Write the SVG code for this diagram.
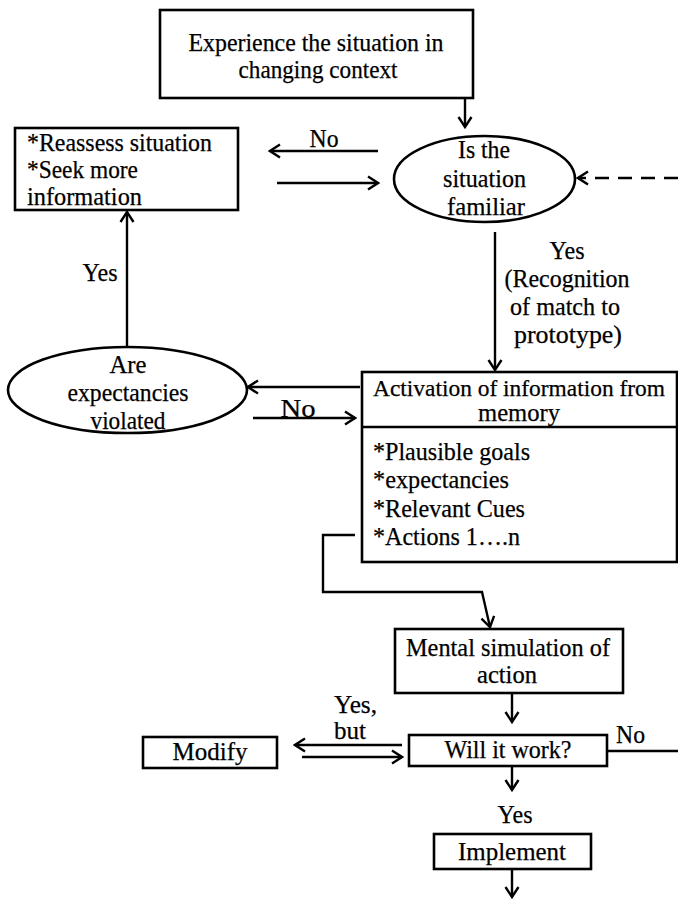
<svg xmlns="http://www.w3.org/2000/svg" width="678" height="901" viewBox="0 0 678 901">
<style>
.t{font-family:"Liberation Serif","Times New Roman",serif;font-size:25px;fill:#000;stroke:#000;stroke-width:0.25}
.m{text-anchor:middle}
.b{fill:#fff;stroke:#000;stroke-width:2.6}
.c{fill:none;stroke:#000;stroke-width:2.4}
.a{marker-end:url(#ah)}
.d{stroke-dasharray:14 9}
</style>
<defs>
<marker id="ah" markerUnits="userSpaceOnUse" markerWidth="14" markerHeight="16" viewBox="0 0 14 16" refX="12" refY="8" orient="auto">
<path d="M2,1.5 L12,8 L2,14.5" fill="none" stroke="#000" stroke-width="2.4"/>
</marker>
</defs>
<rect width="678" height="901" fill="#fff"/>
<g id="connectors">
<line class="c a" x1="465" y1="98" x2="465" y2="127"/>
<line class="c a" x1="378" y1="151" x2="270" y2="151"/>
<line class="c a" x1="277" y1="183" x2="378" y2="183"/>
<line class="c a d" x1="678" y1="178" x2="578" y2="178"/>
<line class="c a" x1="495" y1="232" x2="495" y2="370"/>
<line class="c a" x1="360" y1="387" x2="248" y2="387"/>
<line class="c a" x1="253" y1="418" x2="355" y2="418"/>
<line class="c a" x1="127" y1="347" x2="127" y2="212"/>
<line class="c a" x1="678" y1="543" x2="562" y2="543"/>
<path class="c a" d="M355,535 H323 V592 H482 L490,627"/>
<line class="c a" x1="512" y1="693" x2="512" y2="722"/>
<line class="c a" x1="402" y1="745" x2="295" y2="745"/>
<line class="c a" x1="302" y1="757" x2="402" y2="757"/>
<line class="c" x1="607" y1="751" x2="678" y2="751"/>
<line class="c a" x1="512" y1="766" x2="512" y2="790"/>
<line class="c a" x1="512" y1="869" x2="512" y2="897"/>
<text class="t m" x="324" y="147" textLength="29" lengthAdjust="spacingAndGlyphs">No</text>
<text class="t m" x="100" y="281" textLength="35" lengthAdjust="spacingAndGlyphs">Yes</text>
<text class="t m" x="567" y="259" textLength="35" lengthAdjust="spacingAndGlyphs">Yes</text>
<text class="t m" x="567" y="287" textLength="125" lengthAdjust="spacingAndGlyphs">(Recognition</text>
<text class="t m" x="565" y="315" textLength="110" lengthAdjust="spacingAndGlyphs">of match to</text>
<text class="t m" x="568" y="343" textLength="108" lengthAdjust="spacingAndGlyphs">prototype)</text>
<text class="t m" x="298" y="417" textLength="35" lengthAdjust="spacingAndGlyphs">No</text>
<text class="t" x="334" y="713" textLength="43" lengthAdjust="spacingAndGlyphs">Yes,</text>
<text class="t" x="334" y="739" textLength="32" lengthAdjust="spacingAndGlyphs">but</text>
<text class="t" x="616" y="743" textLength="29" lengthAdjust="spacingAndGlyphs">No</text>
<text class="t m" x="515" y="823" textLength="35" lengthAdjust="spacingAndGlyphs">Yes</text>
</g>
<g id="experience">
<rect class="b" x="160" y="10" width="313" height="88"/>
<text class="t m" x="316" y="51" textLength="255" lengthAdjust="spacingAndGlyphs">Experience the situation in</text>
<text class="t m" x="318" y="78" textLength="159" lengthAdjust="spacingAndGlyphs">changing context</text>
</g>
<g id="reassess">
<rect class="b" x="15" y="128" width="223" height="82"/>
<text class="t" x="27" y="151" textLength="185" lengthAdjust="spacingAndGlyphs">*Reassess situation</text>
<text class="t" x="27" y="178" textLength="111" lengthAdjust="spacingAndGlyphs">*Seek more</text>
<text class="t" x="27" y="205" textLength="115" lengthAdjust="spacingAndGlyphs">information</text>
</g>
<g id="familiar">
<ellipse class="b" cx="484.5" cy="179" rx="90.5" ry="43"/>
<text class="t m" x="484" y="158" textLength="52" lengthAdjust="spacingAndGlyphs">Is the</text>
<text class="t m" x="484.5" y="187" textLength="83" lengthAdjust="spacingAndGlyphs">situation</text>
<text class="t m" x="486" y="215" textLength="78" lengthAdjust="spacingAndGlyphs">familiar</text>
</g>
<g id="expectancies">
<ellipse class="b" cx="127.5" cy="390" rx="119.5" ry="43"/>
<text class="t m" x="128" y="373" textLength="37" lengthAdjust="spacingAndGlyphs">Are</text>
<text class="t m" x="128" y="401" textLength="121" lengthAdjust="spacingAndGlyphs">expectancies</text>
<text class="t m" x="128" y="429" textLength="75" lengthAdjust="spacingAndGlyphs">violated</text>
</g>
<g id="activation">
<rect class="b" x="362" y="372" width="315" height="190"/>
<line class="c" x1="362" y1="427" x2="677" y2="427" stroke-width="2.6"/>
<text class="t m" x="519" y="396" textLength="292" lengthAdjust="spacingAndGlyphs" style="font-size:23.5px">Activation of information from</text>
<text class="t m" x="519" y="421" textLength="82" lengthAdjust="spacingAndGlyphs">memory</text>
<text class="t" x="373" y="460" textLength="157" lengthAdjust="spacingAndGlyphs">*Plausible goals</text>
<text class="t" x="373" y="488" textLength="136" lengthAdjust="spacingAndGlyphs">*expectancies</text>
<text class="t" x="373" y="517" textLength="152" lengthAdjust="spacingAndGlyphs">*Relevant Cues</text>
<text class="t" x="373" y="545" textLength="147" lengthAdjust="spacingAndGlyphs">*Actions 1….n</text>
</g>
<g id="mental">
<rect class="b" x="395" y="629" width="228" height="64"/>
<text class="t m" x="508" y="656" textLength="204" lengthAdjust="spacingAndGlyphs">Mental simulation of</text>
<text class="t m" x="507" y="683" textLength="60" lengthAdjust="spacingAndGlyphs">action</text>
</g>
<g id="work">
<rect class="b" x="409" y="735" width="198" height="31"/>
<text class="t m" x="508" y="758" textLength="127" lengthAdjust="spacingAndGlyphs">Will it work?</text>
</g>
<g id="modify">
<rect class="b" x="143" y="737" width="134" height="31"/>
<text class="t m" x="210" y="760" textLength="75" lengthAdjust="spacingAndGlyphs">Modify</text>
</g>
<g id="implement">
<rect class="b" x="434" y="834" width="157" height="35"/>
<text class="t m" x="512" y="860" textLength="108" lengthAdjust="spacingAndGlyphs">Implement</text>
</g>
</svg>
